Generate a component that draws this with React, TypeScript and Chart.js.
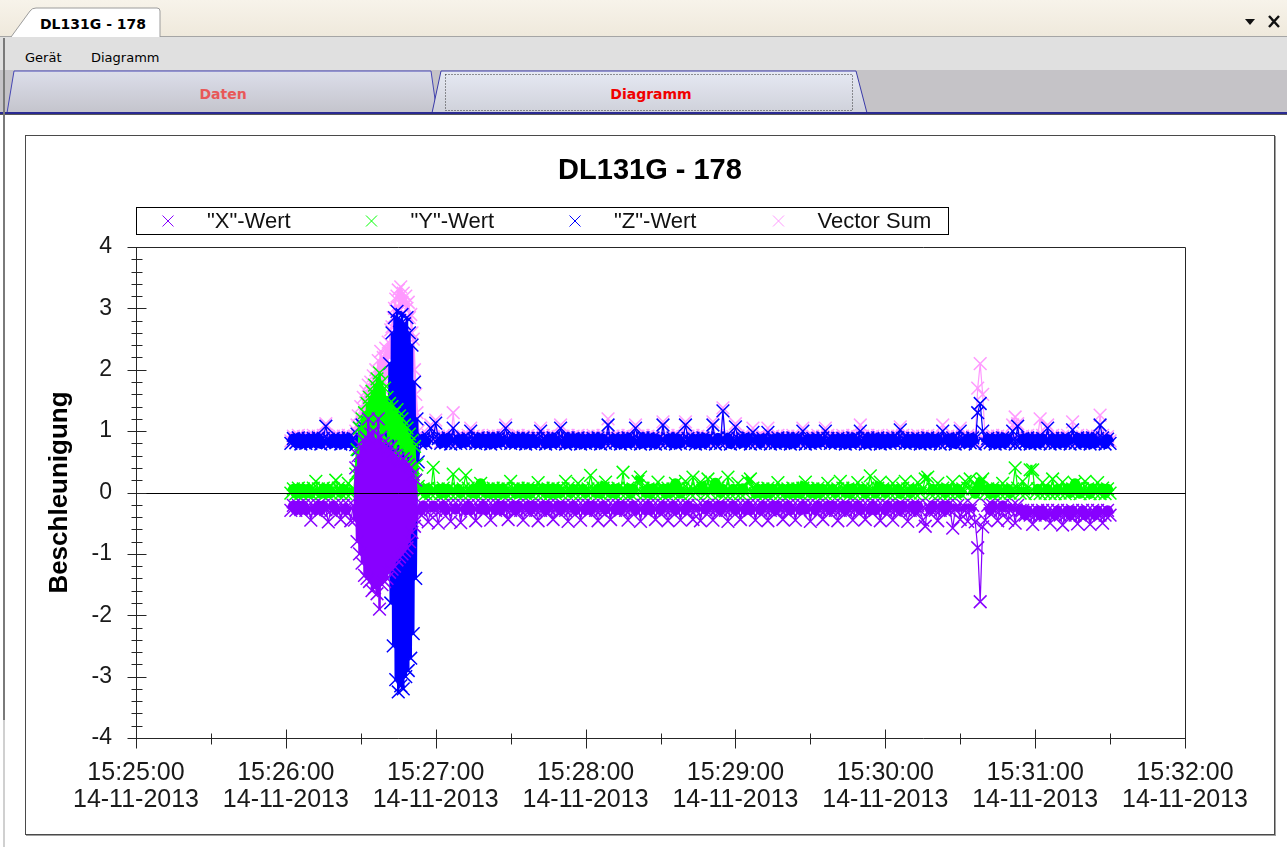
import React, { useEffect, useRef } from 'react';
import { Chart, registerables } from 'chart.js';

Chart.register(...registerables);

// ---------- labels ----------
const chartTitle = 'DL131G - 178';
const yAxisTitle = 'Beschleunigung';
const seriesLabels = ['"X"-Wert', '"Y"-Wert', '"Z"-Wert', 'Vector Sum'];
const seriesColors = ['#8800ff', '#00ff00', '#0000ff', '#ff99ff'];
const xTickTimes = ['15:25:00', '15:26:00', '15:27:00', '15:28:00', '15:29:00', '15:30:00', '15:31:00', '15:32:00'];
const xTickDates = ['14-11-2013', '14-11-2013', '14-11-2013', '14-11-2013', '14-11-2013', '14-11-2013', '14-11-2013', '14-11-2013'];
const yTickLabels = ['-4', '-3', '-2', '-1', '0', '1', '2', '3', '4'];

// ---------- sampling (seconds after 15:25:00) ----------
const PRE_START = 62;
const PRE_STEP = 1;
const SPIKE_START = 87.5;
const SPIKE_STEP = 0.5;
const POST_START = 114;
const POST_STEP = 1;

// ---------- "X"-Wert ----------
const xPre = [-0.29, -0.21, -0.29, -0.21, -0.28, -0.21, -0.29, -0.21, -0.45, -0.21,
  -0.29, -0.21, -0.29, -0.21, -0.28, -0.48, -0.29, -0.21, -0.29, -0.21,
  -0.44, -0.21, -0.29, -0.21, -0.46, -0.21];
const xSpike = [-0.45, 0.40, -0.80, 0.60, -1.00, 0.75, -1.15, 0.85, -1.35, 0.90,
  -1.40, 1.20, -1.45, 0.95, -1.60, 1.00, -1.55, 0.85, -1.65, 1.20,
  -1.90, 0.90, -1.50, 0.80, -1.45, 0.75, -1.40, 0.70, -1.30, 0.75,
  -1.25, 0.65, -1.20, 0.60, -1.10, 0.55, -1.05, 0.50, -1.00, 0.55,
  -0.95, 0.50, -0.90, 0.45, -0.80, 0.40, -0.65, 0.30, -0.55, 0.20,
  -0.45, -0.25];
const xPost = [
  -0.29, -0.21, -0.29, -0.48, -0.28, -0.21, -0.29, -0.50, -0.29, -0.21,
  -0.29, -0.21, -0.47, -0.21, -0.28, -0.21, -0.49, -0.21, -0.29, -0.21,
  -0.29, -0.21, -0.46, -0.21, -0.28, -0.21, -0.29, -0.21, -0.45, -0.21,
  -0.29, -0.21, -0.29, -0.21, -0.28, -0.44, -0.29, -0.21, -0.29, -0.21,
  -0.29, -0.45, -0.29, -0.21, -0.28, -0.21, -0.29, -0.46, -0.29, -0.21,
  -0.29, -0.21, -0.29, -0.44, -0.28, -0.21, -0.29, -0.21, -0.29, -0.47,
  -0.29, -0.21, -0.29, -0.21, -0.45, -0.21, -0.29, -0.21, -0.29, -0.21,
  -0.29, -0.46, -0.29, -0.21, -0.28, -0.21, -0.44, -0.21, -0.29, -0.21,
  -0.29, -0.21, -0.29, -0.45, -0.28, -0.21, -0.29, -0.21, -0.47, -0.21,
  -0.29, -0.21, -0.29, -0.21, -0.44, -0.21, -0.29, -0.21, -0.29, -0.46,
  -0.29, -0.21, -0.29, -0.21, -0.45, -0.21, -0.29, -0.21, -0.29, -0.44,
  -0.29, -0.21, -0.46, -0.21, -0.28, -0.21, -0.29, -0.45, -0.29, -0.21,
  -0.29, -0.21, -0.29, -0.47, -0.28, -0.21, -0.29, -0.21, -0.44, -0.21,
  -0.29, -0.21, -0.29, -0.21, -0.45, -0.21, -0.29, -0.21, -0.29, -0.46,
  -0.29, -0.21, -0.29, -0.21, -0.28, -0.44, -0.29, -0.21, -0.29, -0.21,
  -0.45, -0.21, -0.29, -0.21, -0.28, -0.21, -0.47, -0.21, -0.29, -0.21,
  -0.29, -0.44, -0.29, -0.21, -0.28, -0.21, -0.29, -0.46, -0.29, -0.21,
  -0.29, -0.21, -0.29, -0.45, -0.28, -0.21, -0.29, -0.21, -0.44, -0.21,
  -0.29, -0.21, -0.29, -0.21, -0.46, -0.21, -0.29, -0.21, -0.29, -0.45,
  -0.29, -0.21, -0.29, -0.21, -0.28, -0.47, -0.29, -0.21, -0.29, -0.21,
  -0.29, -0.45, -0.55, -0.21, -0.28, -0.21, -0.29, -0.46, -0.29, -0.21,
  -0.29, -0.21, -0.29, -0.58, -0.28, -0.21, -0.44, -0.21, -0.29, -0.47,
  -0.29, -0.21, -0.48, -0.90, -1.78, -0.56, -0.45, -0.21, -0.29, -0.21,
  -0.29, -0.46, -0.29, -0.21, -0.28, -0.45, -0.29, -0.21, -0.50, -0.21,
  -0.29, -0.29, -0.37, -0.29, -0.37, -0.52, -0.37, -0.29, -0.37, -0.29,
  -0.37, -0.29, -0.50, -0.29, -0.37, -0.29, -0.37, -0.53, -0.37, -0.29,
  -0.37, -0.29, -0.37, -0.51, -0.37, -0.29, -0.37, -0.29, -0.52, -0.29,
  -0.37, -0.29, -0.37, -0.50, -0.37, -0.29, -0.37];

// ---------- "Y"-Wert ----------
const yPre = [-0.01, 0.06, -0.02, 0.07, -0.02, 0.06, -0.01, 0.06, -0.02, 0.07,
  0.18, 0.06, -0.02, 0.07, -0.02, 0.06, -0.01, 0.06, 0.20, 0.07,
  -0.01, 0.06, -0.02, 0.15, -0.02, 0.06];
const ySpike = [0.05, 0.30, 0.70, 0.35, 1.05, 0.45, 1.20, 0.60, 1.30, 0.50,
  1.45, 0.75, 1.55, 0.65, 1.65, 0.90, 1.75, 0.80, 1.85, 1.10,
  1.95, 0.95, 1.80, 0.70, 1.70, 1.00, 1.55, 0.85, 1.45, 0.60,
  1.40, 0.90, 1.30, 0.55, 1.35, 0.80, 1.25, 0.50, 1.20, 0.75,
  1.10, 0.45, 1.05, 0.60, 0.95, 0.35, 0.85, 0.40, 0.75, 0.20,
  0.45, 0.10];
const yPost = [
  -0.01, 0.06, -0.02, 0.07, -0.02, 0.41, -0.01, 0.06, -0.02, 0.07,
  -0.01, 0.06, -0.02, 0.30, -0.02, 0.06, -0.01, 0.06, 0.28, 0.07,
  -0.01, 0.06, -0.02, 0.07, 0.15, 0.06, -0.01, 0.06, -0.02, 0.07,
  -0.01, 0.06, -0.02, 0.07, -0.02, 0.06, 0.18, 0.06, -0.02, 0.07,
  -0.01, 0.06, -0.02, 0.07, -0.02, 0.06, -0.01, 0.16, -0.02, 0.07,
  -0.01, 0.06, -0.02, 0.07, -0.02, 0.06, -0.01, 0.06, 0.18, 0.07,
  -0.01, 0.06, -0.02, 0.15, -0.02, 0.06, -0.01, 0.06, 0.28, 0.07,
  -0.01, 0.06, -0.02, 0.07, 0.17, 0.06, -0.01, 0.06, -0.02, 0.07,
  -0.01, 0.33, -0.02, 0.07, -0.02, 0.06, -0.01, 0.18, 0.25, 0.07,
  -0.01, 0.06, -0.02, 0.07, -0.02, 0.17, -0.01, 0.06, -0.02, 0.07,
  -0.01, 0.06, 0.15, 0.07, -0.02, 0.06, 0.18, 0.06, -0.02, 0.25,
  -0.01, 0.06, 0.17, 0.07, -0.02, 0.22, -0.01, 0.06, 0.16, 0.07,
  -0.01, 0.06, -0.02, 0.25, -0.02, 0.06, -0.01, 0.15, -0.02, 0.07,
  -0.01, 0.18, 0.22, 0.07, -0.02, 0.06, -0.01, 0.06, -0.02, 0.07,
  -0.01, 0.06, -0.02, 0.16, -0.02, 0.06, -0.01, 0.06, -0.02, 0.07,
  -0.01, 0.06, -0.02, 0.07, 0.17, 0.06, -0.01, 0.06, -0.02, 0.07,
  -0.01, 0.06, -0.02, 0.15, -0.02, 0.06, -0.01, 0.06, 0.18, 0.07,
  -0.01, 0.06, -0.02, 0.07, -0.02, 0.16, -0.01, 0.06, -0.02, 0.07,
  0.27, 0.06, -0.02, 0.07, 0.17, 0.06, -0.01, 0.06, -0.02, 0.15,
  -0.01, 0.06, -0.02, 0.07, 0.18, 0.06, -0.01, 0.06, -0.02, 0.16,
  -0.01, 0.06, 0.22, 0.25, -0.02, 0.06, -0.01, 0.15, -0.02, 0.07,
  -0.01, 0.06, -0.02, 0.17, -0.02, 0.06, -0.01, 0.06, 0.18, 0.07,
  0.22, 0.06, -0.02, 0.07, 0.16, 0.22, -0.01, 0.06, -0.02, 0.07,
  -0.01, 0.06, -0.02, 0.15, -0.02, 0.06, -0.01, 0.06, 0.40, 0.07,
  -0.01, 0.18, -0.02, 0.07, 0.37, 0.37, -0.01, 0.06, -0.02, 0.16,
  -0.01, 0.06, -0.02, 0.22, -0.02, 0.06, -0.01, 0.17, -0.02, 0.07,
  -0.01, 0.06, 0.15, 0.07, -0.02, 0.06, 0.18, 0.06, -0.02, 0.07,
  -0.01, 0.16, -0.02, 0.07, -0.02, 0.06, -0.01];

// ---------- "Z"-Wert ----------
const zPre = [0.80, 0.88, 0.81, 0.89, 0.79, 0.87, 0.80, 0.88, 0.80, 0.88,
  0.81, 0.89, 0.79, 0.88, 1.08, 0.87, 0.80, 0.88, 0.81, 0.88,
  0.79, 0.87, 0.80, 0.89, 0.80, 0.88];
const zSpike = [0.84, 0.78, 0.95, 0.70, 1.05, 0.60, 1.10, 0.50, 1.00, 0.40,
  1.15, 0.55, 0.95, 0.30, 1.20, 0.45, 1.05, 0.20, 1.10, 0.35,
  0.90, 0.10, 1.15, -0.20, 1.00, -0.50, 1.30, -0.90, 2.10, -1.80,
  2.60, -2.50, 2.85, -3.05, 2.95, -3.25, 2.80, -3.15, 2.90, -3.20,
  2.75, -3.00, 2.85, -2.90, 2.60, -2.70, 2.40, -2.30, 1.80, -1.40,
  1.20, 0.50];
const zPost = [
  0.80, 0.88, 0.81, 0.89, 1.05, 0.87, 1.13, 0.88, 0.80, 0.88,
  0.81, 0.89, 0.79, 1.05, 0.80, 0.87, 0.80, 0.88, 0.81, 0.88,
  1.00, 0.87, 0.80, 0.89, 0.80, 0.88, 0.81, 0.88, 0.79, 0.89,
  0.80, 0.88, 0.81, 0.89, 1.05, 0.87, 0.80, 0.88, 0.80, 0.88,
  0.81, 0.89, 0.79, 0.88, 0.80, 0.87, 0.80, 0.88, 1.00, 0.88,
  0.79, 0.87, 0.80, 0.89, 0.80, 0.88, 1.05, 0.88, 0.79, 0.89,
  0.80, 0.88, 0.81, 0.89, 0.79, 0.87, 0.80, 0.88, 0.80, 0.88,
  0.81, 0.89, 0.79, 0.88, 0.80, 1.10, 0.80, 0.88, 0.81, 0.88,
  0.79, 0.87, 0.80, 0.89, 0.80, 0.88, 1.05, 0.88, 0.79, 0.89,
  0.80, 0.88, 0.81, 0.89, 0.79, 0.87, 0.80, 1.10, 0.80, 0.88,
  0.81, 0.89, 0.79, 0.88, 0.80, 0.87, 1.10, 0.88, 0.81, 0.88,
  0.79, 0.87, 0.80, 0.89, 0.80, 0.88, 0.81, 1.10, 0.79, 0.89,
  0.80, 1.33, 0.81, 0.89, 0.79, 0.87, 1.07, 0.88, 0.80, 0.88,
  0.81, 0.89, 0.79, 0.98, 0.80, 0.87, 0.80, 0.88, 0.81, 0.98,
  0.79, 0.87, 0.80, 0.89, 0.80, 0.88, 0.81, 0.88, 0.79, 0.89,
  0.80, 0.88, 0.81, 1.00, 0.79, 0.87, 0.80, 0.88, 0.80, 0.88,
  0.81, 0.89, 1.00, 0.88, 0.80, 0.87, 0.80, 0.88, 0.81, 0.88,
  0.79, 0.87, 0.80, 0.89, 0.80, 0.88, 1.00, 0.88, 0.79, 0.89,
  0.80, 0.88, 0.81, 0.89, 0.79, 0.87, 0.80, 0.88, 0.80, 0.88,
  0.81, 0.89, 1.02, 0.88, 0.80, 0.87, 0.80, 0.88, 0.81, 0.88,
  0.79, 0.87, 0.80, 0.89, 0.80, 0.88, 0.81, 0.88, 0.79, 1.00,
  0.80, 0.88, 0.81, 0.89, 0.79, 0.87, 1.00, 0.88, 0.80, 0.88,
  0.81, 0.89, 0.79, 1.30, 1.45, 1.00, 0.80, 0.88, 0.81, 0.88,
  0.79, 0.87, 0.80, 0.89, 0.80, 0.88, 0.81, 1.00, 0.79, 1.08,
  0.80, 0.88, 0.81, 0.89, 0.79, 0.87, 0.80, 0.88, 0.80, 0.88,
  0.81, 1.05, 0.79, 0.88, 0.80, 0.87, 0.80, 0.88, 0.81, 0.88,
  0.79, 1.02, 0.80, 0.89, 0.80, 0.88, 0.81, 0.88, 0.79, 0.89,
  0.80, 0.88, 1.10, 0.89, 0.79, 0.87, 0.80];

// ---------- Vector Sum ----------
const vPre = [0.84, 0.92, 0.83, 0.93, 0.85, 0.91, 0.84, 0.92, 0.83, 0.93,
  0.84, 0.92, 0.83, 0.93, 1.12, 0.91, 0.84, 0.92, 0.83, 0.93,
  0.84, 0.92, 0.83, 0.93, 0.85, 0.91];
const vSpike = [0.92, 1.00, 1.10, 1.25, 1.05, 1.40, 1.15, 1.55, 1.20, 1.65,
  1.25, 1.75, 1.30, 1.80, 1.40, 1.90, 1.45, 2.00, 1.50, 2.15,
  1.60, 2.30, 1.70, 2.20, 1.80, 2.35, 1.90, 2.45, 2.20, 2.65,
  2.70, 2.85, 3.00, 3.15, 3.20, 3.30, 3.00, 3.35, 3.10, 3.25,
  3.05, 3.20, 3.00, 3.10, 2.85, 2.90, 2.60, 2.50, 2.00, 1.60,
  1.30, 1.00];
const vPost = [
  0.84, 0.92, 0.83, 0.93, 1.10, 0.91, 1.18, 0.92, 0.83, 0.93,
  0.84, 0.92, 0.83, 1.30, 0.85, 0.91, 0.84, 0.92, 0.83, 0.93,
  1.05, 0.92, 0.83, 0.93, 0.85, 0.91, 0.84, 0.92, 0.83, 0.93,
  0.84, 0.92, 0.83, 0.93, 1.10, 0.91, 0.84, 0.92, 0.83, 0.93,
  0.84, 0.92, 0.83, 0.93, 0.85, 0.91, 0.84, 0.92, 1.05, 0.93,
  0.84, 0.92, 0.83, 0.93, 0.85, 0.91, 1.10, 0.92, 0.83, 0.93,
  0.84, 0.92, 0.83, 0.93, 0.85, 0.91, 0.84, 0.92, 0.83, 0.93,
  0.84, 0.92, 0.83, 0.93, 0.85, 1.20, 0.84, 0.92, 0.83, 0.93,
  0.84, 0.92, 0.83, 0.93, 0.85, 0.91, 1.10, 0.92, 0.83, 0.93,
  0.84, 0.92, 0.83, 0.93, 0.85, 0.91, 0.84, 1.15, 0.83, 0.93,
  0.84, 0.92, 0.83, 0.93, 0.85, 0.91, 1.15, 0.92, 0.83, 0.93,
  0.84, 0.92, 0.83, 0.93, 0.85, 0.91, 0.84, 1.15, 0.83, 0.93,
  0.84, 1.38, 0.83, 0.93, 0.85, 0.91, 1.12, 0.92, 0.83, 0.93,
  0.84, 0.92, 0.83, 1.05, 0.85, 0.91, 0.84, 0.92, 0.83, 1.05,
  0.84, 0.92, 0.83, 0.93, 0.85, 0.91, 0.84, 0.92, 0.83, 0.93,
  0.84, 0.92, 0.83, 1.05, 0.85, 0.91, 0.84, 0.92, 0.83, 0.93,
  0.84, 0.92, 1.05, 0.93, 0.85, 0.91, 0.84, 0.92, 0.83, 0.93,
  0.84, 0.92, 0.83, 0.93, 0.85, 0.91, 1.10, 0.92, 0.83, 0.93,
  0.84, 0.92, 0.83, 0.93, 0.85, 0.91, 0.84, 0.92, 0.83, 0.93,
  0.84, 0.92, 1.07, 0.93, 0.85, 0.91, 0.84, 0.92, 0.83, 0.93,
  0.84, 0.92, 0.83, 0.93, 0.85, 0.91, 0.84, 0.92, 0.83, 1.10,
  0.84, 0.92, 0.83, 0.93, 0.85, 0.91, 1.05, 0.92, 0.83, 0.93,
  0.84, 0.92, 0.83, 1.70, 2.10, 1.60, 0.84, 0.92, 0.83, 0.93,
  0.84, 0.92, 0.83, 0.93, 0.85, 0.91, 0.84, 1.10, 1.23, 1.12,
  0.84, 0.92, 0.83, 0.93, 0.85, 0.91, 0.84, 0.92, 1.20, 0.93,
  0.84, 1.10, 0.83, 0.93, 0.85, 0.91, 0.84, 0.92, 0.83, 0.93,
  0.84, 1.15, 0.83, 0.93, 0.85, 0.91, 0.84, 0.92, 0.83, 0.93,
  0.84, 0.92, 1.26, 0.93, 0.85, 0.91, 0.84];

const FONT = '"Liberation Sans", Arial, Helvetica, sans-serif';

function seg(start: number, step: number, vals: number[]) {
  return vals.map((v, i) => ({ x: start + i * step, y: v }));
}
function series(pre: number[], spike: number[], post: number[]) {
  return [
    ...seg(PRE_START, PRE_STEP, pre),
    ...seg(SPIKE_START, SPIKE_STEP, spike),
    ...seg(POST_START, POST_STEP, post),
  ];
}

// thick strokes for the dense noise band, thin ones for single excursions
function segmentWidth(c: any) {
  const dx = Math.abs(c.p1.parsed.x - c.p0.parsed.x);
  const dy = Math.abs(c.p1.parsed.y - c.p0.parsed.y);
  if (dx < 0.75) return 2.5;
  return dy <= 0.1 ? 10 : 1.2;
}

const decor = {
  id: 'decor',
  afterDatasetsDraw(chart: any) {
    const { ctx, chartArea: a, scales } = chart;
    const xs = scales.x;
    const ys = scales.y;
    ctx.save();
    ctx.strokeStyle = '#262626';
    ctx.lineWidth = 1;
    const L = Math.round(a.left) + 0.5;
    const R = Math.round(a.right) + 0.5;
    const T = Math.round(a.top) + 0.5;
    const B = Math.round(a.bottom) + 0.5;
    ctx.beginPath();
    ctx.rect(L, T, R - L, B - T);
    ctx.stroke();
    const y0 = Math.round(ys.getPixelForValue(0)) + 0.5;
    ctx.strokeStyle = '#000';
    ctx.beginPath();
    ctx.moveTo(L, y0);
    ctx.lineTo(R, y0);
    ctx.stroke();
    ctx.strokeStyle = '#262626';
    ctx.beginPath();
    for (let k = -20; k <= 20; k++) {
      const py = Math.round(ys.getPixelForValue(k / 5)) + 0.5;
      const h = k % 5 === 0 ? 9 : 5;
      ctx.moveTo(L - h, py);
      ctx.lineTo(L + h + 1, py);
    }
    for (let k = 0; k <= 14; k++) {
      const px = Math.round(xs.getPixelForValue(k * 30)) + 0.5;
      const h = k % 2 === 0 ? 9 : 5;
      ctx.moveTo(px, B - h);
      ctx.lineTo(px, B + h + 1);
    }
    ctx.stroke();
    ctx.restore();
  },
  afterDraw(chart: any) {
    const { ctx, chartArea: a } = chart;
    ctx.save();
    ctx.fillStyle = '#000';
    ctx.font = `bold 29px ${FONT}`;
    ctx.textAlign = 'center';
    ctx.textBaseline = 'middle';
    ctx.fillText(chartTitle, 624, 35);
    ctx.save();
    ctx.translate(34, (a.top + a.bottom) / 2);
    ctx.rotate(-Math.PI / 2);
    ctx.font = `bold 26px ${FONT}`;
    ctx.fillText(yAxisTitle, 0, 0);
    ctx.restore();
    const bx = 110.5, by = 71.5, bw = 812, bh = 27;
    ctx.strokeStyle = '#000';
    ctx.lineWidth = 1;
    ctx.strokeRect(bx, by, bw, bh);
    const cy = by + bh / 2;
    ctx.font = `22px ${FONT}`;
    ctx.textAlign = 'left';
    ctx.textBaseline = 'middle';
    chart.data.datasets.forEach((ds: any, i: number) => {
      const mx = 142 + 203.5 * i;
      ctx.strokeStyle = ds.borderColor;
      ctx.beginPath();
      ctx.moveTo(mx - 5.5, cy - 5.5);
      ctx.lineTo(mx + 5.5, cy + 5.5);
      ctx.moveTo(mx - 5.5, cy + 5.5);
      ctx.lineTo(mx + 5.5, cy - 5.5);
      ctx.stroke();
      ctx.fillStyle = '#111';
      ctx.fillText(ds.label, 181 + 203.5 * i, cy + 1);
    });
    ctx.restore();
  },
};

function ChartPanel() {
  const ref = useRef<HTMLCanvasElement | null>(null);
  useEffect(() => {
    if (!ref.current) return;
    const sets = [
      series(xPre, xSpike, xPost),
      series(yPre, ySpike, yPost),
      series(zPre, zSpike, zPost),
      series(vPre, vSpike, vPost),
    ];
    const chart = new Chart(ref.current, {
      type: 'line',
      data: {
        datasets: sets.map((d, i) => ({
          label: seriesLabels[i],
          data: d,
          borderColor: seriesColors[i],
          backgroundColor: seriesColors[i],
          borderWidth: 2,
          borderJoinStyle: 'round',
          segment: { borderWidth: segmentWidth },
          showLine: true,
          fill: false,
          tension: 0,
          pointStyle: 'crossRot',
          pointRadius: 9,
          pointBorderWidth: 1.5,
          pointBorderColor: seriesColors[i],
          pointBackgroundColor: seriesColors[i],
        })),
      },
      options: {
        animation: false,
        responsive: false,
        maintainAspectRatio: false,
        events: [],
        layout: { padding: { top: 111, right: 89, bottom: 0, left: 0 } },
        plugins: {
          legend: { display: false },
          title: { display: false },
          tooltip: { enabled: false },
        },
        scales: {
          x: {
            type: 'linear',
            min: 0,
            max: 420,
            afterFit: (s: any) => { s.height = 96; },
            grid: { display: false, drawTicks: false },
            border: { display: false },
            ticks: {
              stepSize: 60,
              autoSkip: false,
              maxRotation: 0,
              padding: 21,
              color: '#1a1a1a',
              font: { family: FONT, size: 25, lineHeight: 1.1 },
              callback: (v: any) => {
                const i = Math.round(Number(v) / 60);
                return [xTickTimes[i], xTickDates[i]];
              },
            },
          },
          y: {
            type: 'linear',
            min: -4,
            max: 4,
            afterFit: (s: any) => { s.width = 110; },
            grid: { display: false, drawTicks: false },
            border: { display: false },
            ticks: {
              stepSize: 1,
              padding: 24,
              color: '#1a1a1a',
              font: { family: FONT, size: 23 },
              callback: (v: any) => yTickLabels[Math.round(Number(v)) + 4],
            },
          },
        },
      } as any,
      plugins: [decor],
    });
    return () => chart.destroy();
  }, []);
  return (
    <canvas
      ref={ref}
      width={1248}
      height={698}
      style={{ position: 'absolute', left: 26, top: 136, width: 1248, height: 698 }}
    />
  );
}

export default function App() {
  const ui = '"DejaVu Sans", Verdana, sans-serif';
  return (
    <div style={{ position: 'fixed', left: 0, top: 0, width: 1287, height: 847, background: '#fff', overflow: 'hidden' }}>
      <div style={{ position: 'absolute', left: 0, top: 0, width: 1287, height: 36, background: 'linear-gradient(#f7f3ea, #efe9dc)', borderBottom: '1px solid #a5a5a5' }} />
      <div style={{ position: 'absolute', left: 0, top: 37, width: 1287, height: 33, background: '#e0e0e0' }} />
      <div style={{ position: 'absolute', left: 0, top: 70, width: 1287, height: 43, background: '#c5c3c7' }} />
      <svg width={1287} height={120} style={{ position: 'absolute', left: 0, top: 0 }}>
        <defs>
          <linearGradient id="tabA" x1="0" y1="0" x2="0" y2="1">
            <stop offset="0" stopColor="#dcdeea" />
            <stop offset="1" stopColor="#c4c4cc" />
          </linearGradient>
          <linearGradient id="tabB" x1="0" y1="0" x2="0" y2="1">
            <stop offset="0" stopColor="#e6e9f3" />
            <stop offset="1" stopColor="#cfd1da" />
          </linearGradient>
        </defs>
        <path d="M11 37 L30 11 Q32 8 36 8 L157 8 Q160 8 160 11 L160 37" fill="#ffffff" stroke="#9c9c9c" strokeWidth={1} />
        <text x={40} y={24} fontFamily={ui} fontWeight={700} fontSize={14} fill="#000" dominantBaseline="central">DL131G - 178</text>
        <path d="M1245 19 L1255 19 L1250 25 Z" fill="#111" />
        <path d="M1269 16 L1279 27 M1279 16 L1269 27" stroke="#111" strokeWidth={2.4} />
        <text x={25} y={57} fontFamily={ui} fontSize={13} fill="#000" dominantBaseline="central">Gerät</text>
        <text x={91} y={57} fontFamily={ui} fontSize={13} fill="#000" dominantBaseline="central">Diagramm</text>
        <path d="M7 113 L14 71 L431 71 L437 113" fill="url(#tabA)" stroke="#4646b4" strokeWidth={1} />
        <text x={223} y={94} fontFamily={ui} fontWeight={700} fontSize={14} fill="#e85858" textAnchor="middle" dominantBaseline="central">Daten</text>
        <path d="M432 113 L441 71 L856 71 L867 113" fill="url(#tabB)" stroke="#3a3aa8" strokeWidth={1} />
        <rect x={445.5} y={74.5} width={407} height={36} fill="none" stroke="#333" strokeWidth={1} strokeDasharray="1 2" />
        <text x={651} y={94} fontFamily={ui} fontWeight={700} fontSize={14} fill="#f00000" textAnchor="middle" dominantBaseline="central">Diagramm</text>
        <rect x={0} y={112} width={1287} height={2} fill="#2a2a92" />
        <rect x={0} y={114} width={1287} height={1} fill="#5a5a5a" />
      </svg>
      <div style={{ position: 'absolute', left: 3, top: 38, width: 2, height: 682, background: '#7a7a7a' }} />
      <div style={{ position: 'absolute', left: 3, top: 720, width: 2, height: 127, background: '#d0d0d0' }} />
      <div style={{ position: 'absolute', left: 25, top: 135, width: 1248, height: 698, border: '1px solid #4a4a4a', boxShadow: '1px 1px 0 #a0a0a0', background: '#fff' }} />
      <ChartPanel />
    </div>
  );
}
